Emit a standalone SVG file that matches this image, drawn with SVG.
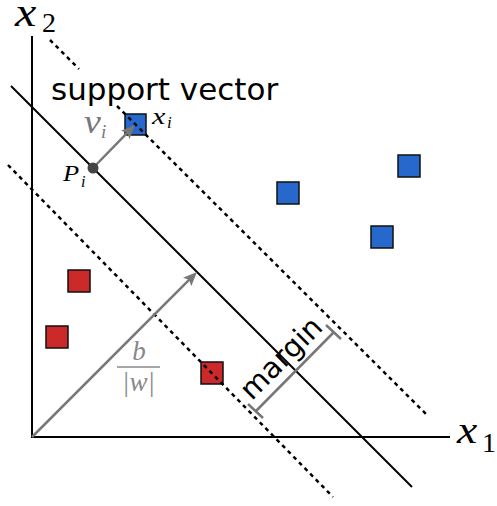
<svg xmlns="http://www.w3.org/2000/svg" width="497" height="506" viewBox="0 0 497 506">
<defs>
<style>
.ax{stroke:#000;stroke-width:2;fill:none}
.hp{stroke:#000;stroke-width:2;fill:none}
.dash{stroke:#000;stroke-width:2.5;stroke-dasharray:4 4;fill:none}
.gr{stroke:#777;stroke-width:2.5;fill:none}
.blue{fill:#2768cc;stroke:#111;stroke-width:1.5}
.red{fill:#cc2a2a;stroke:#111;stroke-width:1.5}
.m{font-family:"Liberation Serif","Times New Roman",serif;font-style:italic}
.r{font-family:"Liberation Serif","Times New Roman",serif}
.s{font-family:"DejaVu Sans","Verdana",sans-serif}
</style>
<marker id="ah" markerUnits="userSpaceOnUse" markerWidth="15" markerHeight="12" refX="6" refY="6" orient="auto" viewBox="0 0 15 12">
<path d="M0,0 L14,6 L0,12 L3,6 z" fill="#777"/>
</marker>
</defs>
<rect width="497" height="506" fill="#fff"/>

<g id="axes">
<line class="ax" x1="32" y1="36" x2="32" y2="438"/>
<line class="ax" x1="31" y1="437" x2="450" y2="437"/>
</g>

<g id="points">
<rect id="sv" class="blue" x="125" y="114" width="21" height="21"/>
<rect id="b1" class="blue" x="277" y="182" width="22" height="22"/>
<rect id="b2" class="blue" x="398" y="155" width="22" height="22"/>
<rect id="b3" class="blue" x="371" y="226" width="22" height="22"/>
<rect id="r1" class="red" x="68" y="270" width="22" height="22"/>
<rect id="r2" class="red" x="46" y="326" width="22" height="22"/>
<rect id="r3" class="red" x="201" y="362" width="22" height="22"/>
</g>

<g id="connectors">
<line class="hp" x1="11" y1="86" x2="412" y2="487"/>
<line class="dash" x1="50" y1="40" x2="79" y2="69"/>
<line class="dash" x1="117" y1="106" x2="428" y2="416"/>
<line class="dash" x1="8" y1="165" x2="333" y2="497"/>
<line class="gr" x1="32" y1="437" x2="191.3" y2="277.7" marker-end="url(#ah)"/>
<line class="gr" x1="93" y1="168" x2="129.4" y2="130.7" marker-end="url(#ah)"/>
<g id="margin-bracket">
<line class="gr" x1="256" y1="411" x2="334" y2="332"/>
<line class="gr" x1="248" y1="404" x2="263" y2="418"/>
<line class="gr" x1="326" y1="325" x2="341" y2="339"/>
</g>
</g>

<g id="Pi">
<circle cx="93" cy="168" r="5.5" fill="#444"/>
<text class="m" font-size="24" transform="translate(63,181) scale(1.1,1)">P</text>
<text class="m" x="81" y="187" font-size="16">i</text>
</g>

<g id="labels">
<text class="m" font-size="40" transform="translate(15,26) scale(1.2,1)">x</text>
<text class="r" x="42" y="32" font-size="28">2</text>
<text class="m" font-size="38" transform="translate(457,443) scale(1.2,1)">x</text>
<text class="r" x="482" y="452" font-size="28">1</text>
<text class="s" x="51" y="100" font-size="31">support vector</text>
<text class="m" font-size="33" fill="#777" transform="translate(84,133) scale(1.15,1)">v</text>
<text class="m" x="101" y="138" font-size="19" fill="#777">i</text>
<text class="m" font-size="24" transform="translate(152,124) scale(1.25,1)">x</text>
<text class="m" x="167" y="128" font-size="17">i</text>
<text class="m" x="139" y="360" font-size="27" fill="#888" text-anchor="middle">b</text>
<line x1="117" y1="367" x2="160" y2="367" stroke="#888" stroke-width="1.5"/>
<text class="m" x="138.5" y="391" font-size="27" fill="#888" text-anchor="middle">|w|</text>
<text class="s" font-size="29" text-anchor="middle" transform="translate(288,365) rotate(-45)">margin</text>
</g>
</svg>
